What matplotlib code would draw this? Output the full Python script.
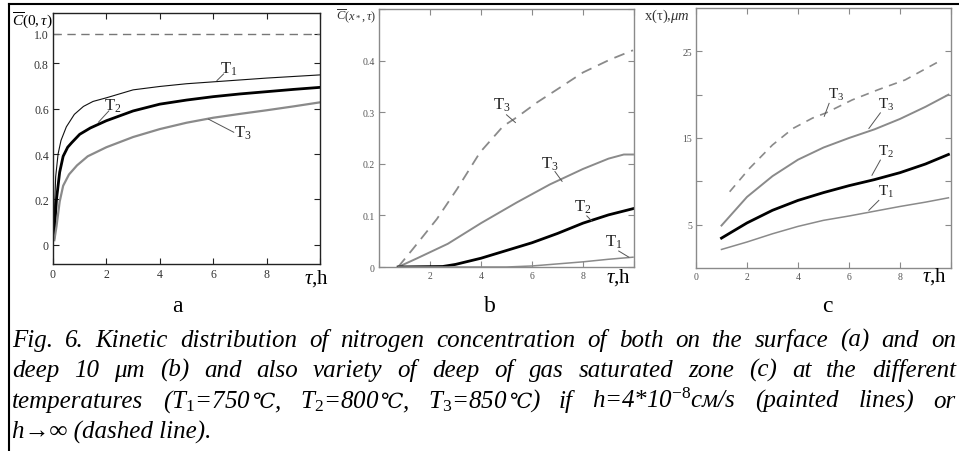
import re
import matplotlib
matplotlib.use("Agg")
import matplotlib.pyplot as plt

plt.rcParams['mathtext.fontset'] = 'custom'
plt.rcParams['mathtext.rm'] = 'Liberation Serif'
plt.rcParams['mathtext.it'] = 'Liberation Serif:italic'
plt.rcParams['mathtext.bf'] = 'Liberation Serif:bold'
SERIF = ['Liberation Serif', 'DejaVu Serif', 'DejaVu Sans']
plt.rcParams['font.family'] = SERIF

W, H = 959, 452

# ---- panel a : surface concentration C(0,tau)
a_limit = 0.93   # dashed h->inf level, labelled "1.0" on the original axis
a_t1_tau = [0.02, 0.1, 0.19, 0.3, 0.5, 0.8, 1.14, 1.5, 2, 3, 4, 5, 6.2, 8, 10]
a_t1 = [0.04, 0.30, 0.40, 0.46, 0.52, 0.575, 0.61, 0.632, 0.648, 0.683, 0.698, 0.71, 0.72, 0.735, 0.749]
a_t2_tau = [0.03, 0.13, 0.25, 0.38, 0.55, 0.7, 1.0, 1.4, 2, 3, 4, 5, 6, 7, 8, 9, 10]
a_t2 = [0.03, 0.2, 0.32, 0.39, 0.43, 0.45, 0.487, 0.515, 0.547, 0.59, 0.62, 0.638, 0.653, 0.665, 0.675, 0.685, 0.694]
a_t3_tau = [0.05, 0.13, 0.25, 0.38, 0.6, 0.9, 1.3, 2, 3, 4, 5, 6, 7, 8, 9, 10]
a_t3 = [0.02, 0.08, 0.19, 0.26, 0.31, 0.35, 0.39, 0.43, 0.475, 0.51, 0.538, 0.56, 0.577, 0.593, 0.61, 0.628]
a_yticks = [0, 0.2, 0.4, 0.6, 0.8, a_limit]
a_ylabels = ['0', '0.2', '0.4', '0.6', '0.8', '1.0']

# ---- panel b : concentration at depth 10 um
b_inf_tau = [0.75, 1.33, 2.27, 3.06, 3.96, 4.87, 5.4, 6.2, 6.98, 8.0, 9.06, 9.96]
b_inf_t3 = [0.0, 0.035, 0.093, 0.151, 0.222, 0.273, 0.29, 0.319, 0.344, 0.377, 0.402, 0.42]
b_t3_tau = [0.75, 1.5, 2.7, 4.0, 5.4, 6.7, 8.0, 9.0, 9.6, 9.96]
b_t3 = [0.0, 0.017, 0.045, 0.085, 0.125, 0.16, 0.19, 0.21, 0.218, 0.218]
b_t2_tau = [0.75, 2.5, 3.0, 4.0, 5.0, 6.0, 7.0, 8.0, 9.0, 9.96]
b_t2 = [0.0, 0.001, 0.005, 0.017, 0.032, 0.047, 0.065, 0.085, 0.101, 0.113]
b_t1_tau = [0.75, 5.0, 6.0, 7.0, 8.0, 9.0, 9.96]
b_t1 = [0.0, 0.0, 0.002, 0.006, 0.01, 0.015, 0.019]

# ---- panel c : depth of gas saturated zone
c_inf_tau = [1.32, 2.1, 3.0, 3.8, 4.57, 5.1, 6.13, 7.17, 8.2, 9.57]
c_inf_t3 = [8.8, 11.5, 14.2, 16.1, 17.3, 17.9, 19.4, 20.6, 21.7, 23.9]
c_tau = [1, 2, 3, 4, 5, 6, 7, 8, 9, 9.9]
c_t3 = [4.9, 8.2, 10.6, 12.5, 13.9, 15.0, 16.0, 17.2, 18.6, 20.0]
c_t2 = [3.45, 5.2, 6.66, 7.8, 8.7, 9.5, 10.2, 11.0, 12.0, 13.1]
c_t1 = [2.14, 3.0, 3.95, 4.8, 5.5, 6.0, 6.55, 7.1, 7.6, 8.1]

GRAY = '#8a8a8a'


def px(x, y):
    return x / W, 1 - y / H


def setup(ax, spine_col, lab_col, size):
    for s in ax.spines.values():
        s.set_color(spine_col)
        s.set_linewidth(1.0)
    ax.tick_params(direction='in', length=4, width=0.8, color=spine_col,
                   top=True, right=True, labelsize=size, labelcolor=lab_col, pad=3)
    ax.set_xlim(0, 10)


def tag(ax, text, lab, pt0, pt1, size=12):
    ax.text(lab[0], lab[1], text, fontsize=size, ha='center', va='center', color='#222')
    ax.plot([pt0[0], pt1[0]], [pt0[1], pt1[1]], color='#555', lw=0.7)


fig = plt.figure(figsize=(W / 100, H / 100), dpi=100)

# panel a
ax = fig.add_axes([53 / W, 1 - 265 / H, 267 / W, 251 / H])
setup(ax, '#222', '#333', 8.5)
ax.axhline(a_limit, color='#777', lw=1.0, dashes=(6, 4))
ax.plot(a_t1_tau, a_t1, color='#111', lw=0.8)
ax.plot(a_t2_tau, a_t2, color='#000', lw=2.0)
ax.plot(a_t3_tau, a_t3, color=GRAY, lw=1.6)
ax.set_ylim(-0.085, 1.022)
ax.set_yticks(a_yticks)
ax.set_yticklabels(a_ylabels)
ax.set_xticks([0, 2, 4, 6, 8, 10])
ax.set_xticklabels(['0', '2', '4', '6', '8', ''])
tag(ax, r'$\mathrm{T}_1$', (6.6, 0.78), (6.39, 0.753), (6.14, 0.724))
tag(ax, r'$\mathrm{T}_2$', (2.25, 0.615), (2.09, 0.59), (1.7, 0.54))
tag(ax, r'$\mathrm{T}_3$', (7.1, 0.496), (6.77, 0.496), (5.82, 0.554))

# panel b
ax = fig.add_axes([379 / W, 1 - 268 / H, 255 / W, 258 / H])
setup(ax, GRAY, '#555', 7)
ax.plot(b_inf_tau, b_inf_t3, color=GRAY, lw=1.3, dashes=(6, 4))
ax.plot(b_t3_tau, b_t3, color=GRAY, lw=1.4)
ax.plot(b_t2_tau, b_t2, color='#000', lw=2.0)
ax.plot(b_t1_tau, b_t1, color=GRAY, lw=1.1)
ax.set_ylim(0, 0.5)
ax.set_yticks([0, 0.1, 0.2, 0.3, 0.4, 0.5])
ax.set_yticklabels(['0', '0.1', '0.2', '0.3', '0.4', ''])
ax.set_xticks([0, 2, 4, 6, 8, 10])
ax.set_xticklabels(['', '2', '4', '6', '8', ''])
tag(ax, r'$\mathrm{T}_3$', (4.8, 0.315), (5.0, 0.295), (5.35, 0.28))
tag(ax, r'$\mathrm{T}_3$', (6.7, 0.2), (6.9, 0.185), (7.18, 0.166))
tag(ax, r'$\mathrm{T}_2$', (8.0, 0.118), (8.15, 0.099), (8.35, 0.089))
tag(ax, r'$\mathrm{T}_1$', (9.2, 0.05), (9.4, 0.031), (9.8, 0.019))

# panel c
ax = fig.add_axes([696 / W, 1 - 269 / H, 255 / W, 260 / H])
setup(ax, GRAY, '#555', 7)
ax.plot(c_inf_tau, c_inf_t3, color=GRAY, lw=1.2, dashes=(5, 4))
ax.plot(c_tau, c_t3, color=GRAY, lw=1.4)
ax.plot(c_tau, c_t2, color='#000', lw=2.0)
ax.plot(c_tau, c_t1, color=GRAY, lw=1.1)
ax.set_ylim(0, 30)
ax.set_yticks([5, 10, 15, 20, 25])
ax.set_yticklabels(['5', '', '15', '', '25'])
ax.set_xticks([0, 2, 4, 6, 8, 10])
ax.set_xticklabels(['0', '2', '4', '6', '8', ''])
tag(ax, r'$\mathrm{T}_3$', (5.5, 20.1), (5.22, 19.0), (5.03, 17.5), 11)
tag(ax, r'$\mathrm{T}_3$', (7.45, 18.9), (7.23, 17.9), (6.78, 16.1), 11)
tag(ax, r'$\mathrm{T}_2$', (7.45, 13.5), (7.23, 12.45), (6.9, 10.7), 11)
tag(ax, r'$\mathrm{T}_1$', (7.45, 8.9), (7.17, 7.8), (6.78, 6.66), 11)

# axis captions
fig.text(*px(32, 21), r'$\overline{C}(0,\tau)$', fontsize=11, ha='center', va='center')
fig.text(*px(356, 16), r'$\overline{C}(x_*,\tau)$', fontsize=9, ha='center', va='center', color='#333')
fig.text(*px(667, 16), r'x(τ),$\mu m$', fontsize=10.5, ha='center', va='center', color='#333')
for x, y in [(316, 279), (618, 278), (934, 277)]:
    fig.text(*px(x, y), r'$\tau$,h', fontsize=15, ha='center', va='center')

# frame
fig.add_artist(plt.Line2D([9 / W, 9 / W], [0, 1 - 5 / H], color='#000', lw=1.5))
fig.add_artist(plt.Line2D([9 / W, 1], [1 - 5 / H, 1 - 5 / H], color='#000', lw=1.5))

# panel letters
for letter, x in [('a', 177), ('b', 490), ('c', 827)]:
    fig.text(*px(x, 312), letter, fontsize=17, ha='center', va='baseline')

# caption, justified lines
caption = [
    "Fig. 6. Kinetic distribution of nitrogen concentration of both on the surface (a) and on",
    "deep 10 μm (b) and also variety of deep of gas saturated zone (c) at the different",
    r"temperatures (T$_1$=750℃, T$_2$=800℃, T$_3$=850℃) if h=4*10$^{-8}$см/s (painted lines) or",
]
baselines = [347, 377, 408]
r = fig.canvas.get_renderer()
for line, yb in zip(caption, baselines):
    words = []
    for w in line.split(' '):
        parts = [p for p in re.split('(℃)', w) if p]
        texts = [fig.text(0, 0, p, fontsize=15 if p == '℃' else 18, style='italic', va='baseline')
                 for p in parts]
        widths = [t.get_window_extent(r).width for t in texts]
        words.append((texts, widths))
    total = sum(sum(ws) for _, ws in words)
    gap = (956 - 12 - total) / (len(words) - 1)
    x = 12
    for texts, widths in words:
        for t, w in zip(texts, widths):
            t.set_position(px(x, yb))
            x += w
        x += gap
fig.text(*px(12, 439), "h→∞ (dashed line).", fontsize=18, style='italic', va='baseline')

fig.savefig('out.png', dpi=100)
